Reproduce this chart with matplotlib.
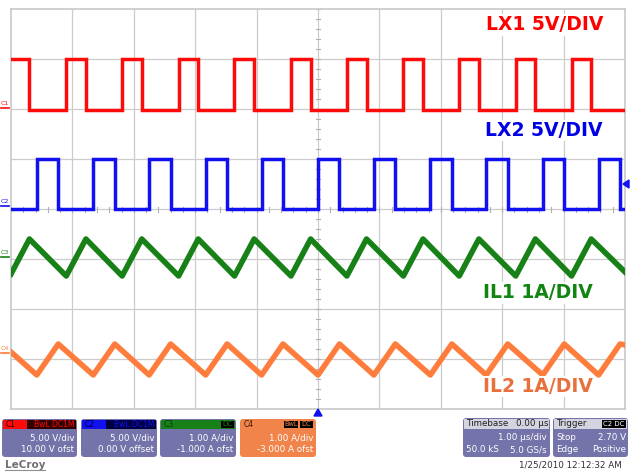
import matplotlib
matplotlib.use("Agg")
import matplotlib.pyplot as plt
from matplotlib.patches import FancyBboxPatch, Rectangle, Polygon
import numpy as np

# ---- data (in divisions; x: 0..10 div = 1 us/div, y: -4..4 div) ----
lx1_rise = [0.90, 1.81, 2.73, 3.64, 4.56, 5.47, 6.39, 7.30, 8.22, 9.13]
lx1_fall = [0.30, 1.22, 2.13, 3.05, 3.96, 4.88, 5.79, 6.71, 7.62, 8.54, 9.45]
lx1_high, lx1_low = 3.00, 1.98

lx2_rise = [0.42, 1.34, 2.25, 3.17, 4.08, 5.00, 5.91, 6.83, 7.74, 8.66, 9.57]
lx2_fall = [0.77, 1.69, 2.60, 3.52, 4.43, 5.35, 6.26, 7.18, 8.09, 9.01, 9.92]
lx2_high, lx2_low = 1.00, 0.00

il1_peak, il1_trough = -0.60, -1.34
il1_start, il1_end = -1.30, -1.26
il2_peak, il2_trough = -2.70, -3.32
il2_start, il2_end = -2.86, -2.72

labels = ["LX1 5V/DIV", "LX2 5V/DIV", "IL1 1A/DIV", "IL2 1A/DIV"]
label_y = [3.68, 1.57, -1.68, -3.55]
label_x = [9.64, 9.64, 9.48, 9.48]

def square(rise, fall, hi, lo, x0=0.0, x1=10.0):
    ev = sorted([(t, hi) for t in rise] + [(t, lo) for t in fall])
    start = lo if ev[0][1] == hi else hi
    xs, ys = [x0], [start]
    cur = start
    for t, v in ev:
        xs += [t, t]
        ys += [cur, v]
        cur = v
    xs.append(x1); ys.append(cur)
    return xs, ys

def tri(peaks_at, troughs_at, pk, tr, ys0, ys1, x0=0.0, x1=10.0):
    ev = sorted([(t, pk) for t in peaks_at] + [(t, tr) for t in troughs_at])
    xs = [x0] + [t for t, _ in ev] + [x1]
    ys = [ys0] + [v for _, v in ev] + [ys1]
    return xs, ys

RED = "#ff0a0a"; BLUE = "#1010f0"; GREEN = "#178017"; ORANGE = "#ff7d3c"

W, H = 630, 472
fig = plt.figure(figsize=(W / 100, H / 100), dpi=100)
fig.patch.set_facecolor("white")
L, R, T, B = 11, 625, 9, 409
ax = fig.add_axes([L / W, 1 - B / H, (R - L) / W, (B - T) / H])
ax.set_xlim(0, 10)
ax.set_ylim(-4, 4)
ax.set_xticks([]); ax.set_yticks([])
for s in ax.spines.values():
    s.set_color("#c8c8c8"); s.set_linewidth(1.2)
for gx in range(1, 10):
    ax.axvline(gx, color="#cccccc", lw=0.9, zorder=1)
for gy in range(-3, 4):
    ax.axhline(gy, color="#cccccc", lw=0.9, zorder=1)
# center minor ticks
for t in np.arange(0, 10.01, 0.2):
    ax.plot([t, t], [-0.05, 0.05], color="#b0b0b0", lw=0.8, zorder=1)
for t in np.arange(-4, 4.01, 0.2):
    ax.plot([4.96, 5.04], [t, t], color="#b0b0b0", lw=0.8, zorder=1)

x, y = square(lx1_rise, lx1_fall, lx1_high, lx1_low)
ax.plot(x, y, color=RED, lw=2.5, solid_joinstyle="miter", zorder=3)
x, y = square(lx2_rise, lx2_fall, lx2_high, lx2_low)
ax.plot(x, y, color=BLUE, lw=2.5, solid_joinstyle="miter", zorder=3)
x, y = tri(lx1_fall, lx1_rise, il1_peak, il1_trough, il1_start, il1_end)
ax.plot(x, y, color=GREEN, lw=4.0, zorder=3)
x, y = tri(lx2_fall, lx2_rise, il2_peak, il2_trough, il2_start, il2_end)
ax.plot(x, y, color=ORANGE, lw=4.0, zorder=3)

txt_colors = ["#ff0000", "#0000e6", "#118511", "#e8703c"]
for lab, yy, c, xx in zip(labels, label_y, txt_colors, label_x):
    ax.text(xx, yy, lab, color=c, fontsize=13.5, fontweight="bold",
            family="DejaVu Sans", ha="right", va="center", zorder=5,
            bbox=dict(facecolor="white", edgecolor="none", pad=1.0))

# ---- overlay in pixel coordinates ----
ov = fig.add_axes([0, 0, 1, 1], zorder=10)
ov.set_xlim(0, W); ov.set_ylim(H, 0); ov.axis("off")
ov.patch.set_alpha(0)

# channel markers at left
for lab, yy, c in [("C1", 106, RED), ("C2", 204, BLUE), ("C3", 255, GREEN), ("C4", 351, ORANGE)]:
    ov.text(5, yy, lab, color=c, fontsize=4.5, ha="center", va="bottom")
    ov.plot([1, 9], [yy + 1.5, yy + 1.5], color=c, lw=1.2)

# trigger markers
ov.add_patch(Polygon([[623, 184], [629, 180], [629, 188]], closed=True, color=BLUE))
ov.add_patch(Polygon([[318, 409], [314, 416], [322, 416]], closed=True, color=BLUE))

BODY = "#7474aa"
def box(x0, x1, y0, y1, color, ec="none"):
    ov.add_patch(FancyBboxPatch((x0, y0), x1 - x0, y1 - y0,
                                boxstyle="round,pad=0,rounding_size=3",
                                fc=color, ec=ec, lw=0.6))

fs = 6.3
chans = [
    (2, 77, RED, "#300000", "C1", "BwL DC1M", "5.00 V/div", "10.00 V ofst"),
    (81, 157, BLUE, "#000040", "C2", "BwL DC1M", "5.00 V/div", "0.00 V offset"),
    (160, 236, GREEN, None, "C3", "DC", "1.00 A/div", "-1.000 A ofst"),
    (240, 316, "#f0844a", None, "C4", "BwL DC", "1.00 A/div", "-3.000 A ofst"),
]
for x0, x1, hc, dark, name, tag, l1, l2 in chans:
    body = "#f0844a" if name == "C4" else BODY
    box(x0, x1, 419, 457, body)
    if name in ("C1", "C2"):
        ov.add_patch(Rectangle((x0 + 1, 420), x1 - x0 - 2, 9, fc=dark, ec="none"))
        ov.add_patch(Rectangle((x0 + 1, 420), 24, 9, fc=hc, ec="none"))
        ov.text(x0 + 4, 424.5, name, color=dark, fontsize=5.5, va="center")
        ov.text(x1 - 3, 424.5, tag, color=hc, fontsize=5.5, va="center", ha="right")
    elif name == "C3":
        ov.add_patch(Rectangle((x0 + 1, 420), x1 - x0 - 2, 9, fc=hc, ec="none"))
        ov.add_patch(Rectangle((x1 - 15, 421), 13, 7, fc="black", ec="none"))
        ov.text(x0 + 4, 424.5, name, color="#0a3a0a", fontsize=5.5, va="center")
        ov.text(x1 - 8.5, 424.5, tag, color=hc, fontsize=5, va="center", ha="center")
    else:
        ov.text(x0 + 4, 424.5, name, color="#3a1a0a", fontsize=5.5, va="center")
        ov.add_patch(Rectangle((x1 - 32, 421), 14, 7, fc="black", ec="none"))
        ov.add_patch(Rectangle((x1 - 16, 421), 13, 7, fc="black", ec="none"))
        ov.text(x1 - 25, 424.5, "BwL", color=hc, fontsize=4.8, va="center", ha="center")
        ov.text(x1 - 9.5, 424.5, "DC", color=hc, fontsize=4.8, va="center", ha="center")
    ov.text(x1 - 3, 438, l1, color="white", fontsize=fs, ha="right", va="center")
    ov.text(x1 - 3, 450, l2, color="white", fontsize=fs, ha="right", va="center")

# timebase
box(463, 550, 418, 457, BODY)
ov.add_patch(Rectangle((464, 419), 85, 10, fc="#d4d4e0", ec="none"))
ov.text(466, 424, "Timebase", color="#202020", fontsize=fs, va="center")
ov.text(549, 424, "0.00 \u00b5s", color="#202020", fontsize=fs, va="center", ha="right")
ov.text(547, 438, "1.00 \u00b5s/div", color="white", fontsize=fs, va="center", ha="right")
ov.text(466, 450, "50.0 kS", color="white", fontsize=fs, va="center")
ov.text(547, 450, "5.0 GS/s", color="white", fontsize=fs, va="center", ha="right")
# trigger
box(553, 628, 418, 457, BODY)
ov.add_patch(Rectangle((554, 419), 73, 10, fc="#d4d4e0", ec="none"))
ov.text(556, 424, "Trigger", color="#202020", fontsize=fs, va="center")
ov.add_patch(Rectangle((602, 420), 24, 8, fc="black", ec="none"))
ov.text(614, 424, "C2 DC", color="white", fontsize=5, va="center", ha="center")
ov.text(556, 438, "Stop", color="white", fontsize=fs, va="center")
ov.text(626, 438, "2.70 V", color="white", fontsize=fs, va="center", ha="right")
ov.text(556, 450, "Edge", color="white", fontsize=fs, va="center")
ov.text(626, 450, "Positive", color="white", fontsize=fs, va="center", ha="right")

ov.text(622, 465, "1/25/2010 12:12:32 AM", color="#303030", fontsize=6.3, va="center", ha="right")
ov.text(5, 465, "LeCroy", color="#707070", fontsize=7.5, fontweight="bold", va="center")
ov.plot([5, 45], [470, 470], color="#909090", lw=0.8)

fig.savefig("out.png", dpi=100, facecolor="white")
